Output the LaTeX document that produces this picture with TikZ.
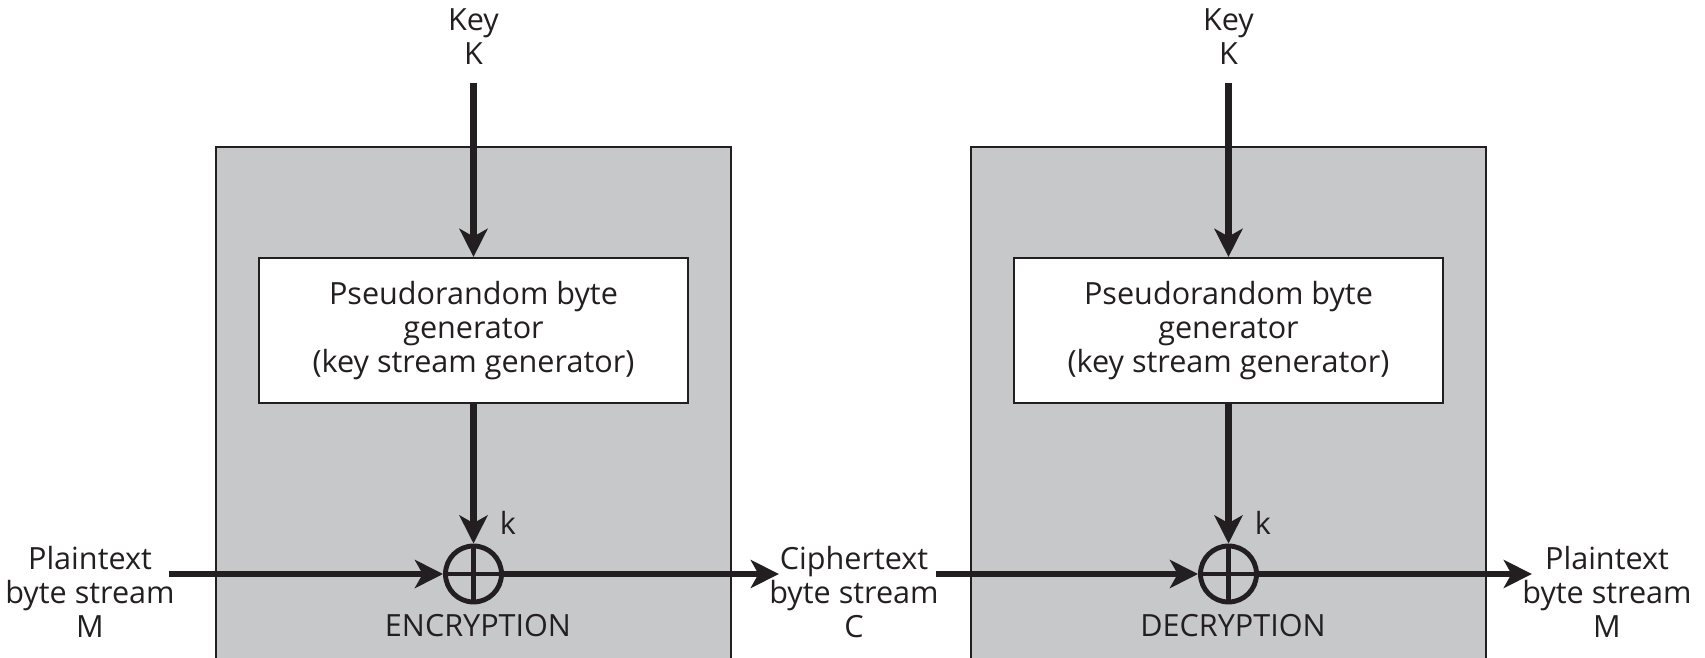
\documentclass[tikz,border=0pt]{standalone}
\usepackage{fontspec}
\setmainfont{Open Sans}
\usetikzlibrary{arrows.meta,positioning}
\definecolor{panelgray}{RGB}{199,200,202}
\definecolor{ink}{RGB}{35,31,32}

\begin{document}
\begin{tikzpicture}[line width=.6pt,color=ink,
		txt/.style={align=center,inner sep=0pt,font=\fontsize{8.7}{9.6}\selectfont},
		gen/.style={txt,draw,fill=white,minimum width=4.29cm,minimum height=1.45cm},
		xor/.style={draw,circle,line width=1.4pt,minimum size=.56cm,inner sep=0pt},
		flow/.style={line width=1.8pt,-{Stealth[length=8pt,width=8pt,inset=2.2pt]}}]
		\useasboundingbox (0,0) rectangle (17.05,6.58);
		% the two grey panels
		\draw[fill=panelgray] (2.16,0) |- (7.31,5.11) -- (7.31,0);
		\draw[fill=panelgray] (9.71,0) |- (14.86,5.11) -- (14.86,0);
		% encryption side
		\node[txt] (keyE) at (4.735,6.215) {Key\\K};
		\node[gen] (genE) at (4.735,3.275) {Pseudorandom byte\\generator\\(key stream generator)};
		\node[xor] (xorE) at (4.735,.84) {};
		\draw[line width=1.4pt] (xorE.north) -- (xorE.south) (xorE.west) -- (xorE.east);
		\node[txt] (kE) at (5.08,1.35) {k};
		\node[txt] (encLbl) at (4.78,.32) {ENCRYPTION};
		% decryption side
		\node[txt] (keyD) at (12.285,6.215) {Key\\K};
		\node[gen] (genD) at (12.285,3.275) {Pseudorandom byte\\generator\\(key stream generator)};
		\node[xor] (xorD) at (12.285,.84) {};
		\draw[line width=1.4pt] (xorD.north) -- (xorD.south) (xorD.west) -- (xorD.east);
		\node[txt] (kD) at (12.63,1.35) {k};
		\node[txt] (decLbl) at (12.33,.32) {DECRYPTION};
		% streams
		\node[txt] (ptIn) at (.90,.66) {Plaintext\\byte stream\\M};
		\node[txt] (ct) at (8.54,.66) {Ciphertext\\byte stream\\C};
		\node[txt] (ptOut) at (16.07,.66) {Plaintext\\byte stream\\M};
		\draw[flow,shorten <=5pt] (keyE.south) -- (genE);
		\draw[flow] (genE) -- (xorE);
		\draw[flow,shorten <=5pt] (keyD.south) -- (genD);
		\draw[flow] (genD) -- (xorD);
		\draw[flow,shorten <=-2pt] (ptIn.east |- xorE) -- (xorE);
		\draw[flow,shorten >=-3pt] (xorE) -- (ct.west |- xorE);
		\draw[flow,shorten <=-1pt] (ct.east |- xorD) -- (xorD);
		\draw[flow,shorten >=-3pt] (xorD) -- (ptOut.west |- xorD);
	\end{tikzpicture}
\end{document}
